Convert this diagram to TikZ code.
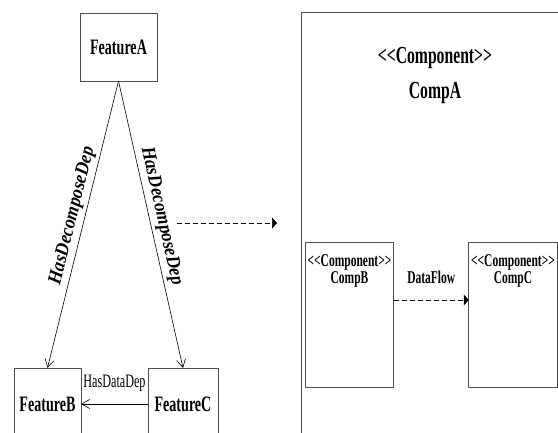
\documentclass[tikz,border=0pt]{standalone}
\usepackage{fontspec}
\setmainfont{Liberation Serif}[FakeStretch=0.64]
\newfontfamily\depfont{Liberation Serif}[FakeStretch=0.9]
\usepackage{tikz}
\usetikzlibrary{positioning,arrows.meta}
\definecolor{mBoxLine}{HTML}{505050}
\definecolor{mInk}{HTML}{000000}
\tikzset{
 featbox/.style={draw=mBoxLine, line width=0.8pt, inner sep=0pt, outer sep=0pt, font=\fontsize{22}{24}\selectfont\bfseries},
 compframe/.style={draw=mBoxLine, line width=0.8pt, inner sep=0pt, outer sep=0pt},
 deparrow/.style={-{Straight Barb[length=8pt,width=9pt]}, line width=0.6pt, mInk},
 flowarrow/.style={-{Triangle[length=5pt,width=11pt]}, line width=0.7pt, dash pattern=on 5pt off 3pt, mInk},
}
\newcommand{\stereo}{<\kern0pt<Component>\kern0pt>}
\newcommand{\compnode}[3]{%
 \node[compframe, minimum width=88.5pt, minimum height=145pt] (#2) at (#1,314.5) {};%
 \node[align=center, font=\fontsize{18}{17}\selectfont\bfseries] (#2title) at (#1,271) {\stereo\\#3};%
}

\begin{document}
\begin{tikzpicture}[x=1pt, y=-1pt]
\useasboundingbox (0,0) rectangle (558,433);
\clip (0,0) rectangle (558,433);
% feature side
\node[featbox, minimum width=77pt, minimum height=68pt] (fa) at (118.5,47) {FeatureA};
\node[featbox, minimum width=67pt, minimum height=72pt] (fb) at (47.5,404) {FeatureB};
\node[featbox, minimum width=70pt, minimum height=72pt] (fc) at (183,404) {FeatureC};
\draw[deparrow] (fa.south) -- node[sloped, above, pos=0.48, font=\depfont\fontsize{19.5}{20}\selectfont\bfseries\itshape] (hdl) {HasDecomposeDep} (fb.north);
\draw[deparrow] (fa.south) -- node[sloped, above, pos=0.48, font=\depfont\fontsize{19.5}{20}\selectfont\bfseries\itshape] (hdr) {HasDecomposeDep} (fc.north);
\draw[deparrow] (fc.west) -- node[above=8.5pt, font=\fontsize{19}{20}\selectfont] (hdd) {HasDataDep} (fb.east);
% mapping
\coordinate (mapfrom) at (177,223);
\coordinate (mapto) at (277,223);
\draw[flowarrow] (mapfrom) -- (mapto);
% component side
\node[compframe, minimum width=269pt, minimum height=438pt] (compa) at (435.5,231) {};
\node[align=center, font=\fontsize{24.5}{35}\selectfont\bfseries] (compatitle) at (435,75) {\stereo\\CompA};
\compnode{349.5}{compb}{CompB}
\compnode{513}{compc}{CompC}
\draw[flowarrow] ([yshift=14.5pt]compb.east) -- node[above=13pt, font=\fontsize{18}{20}\selectfont\bfseries] (dfl) {DataFlow} ([yshift=14.5pt]compc.west);
\end{tikzpicture}
\end{document}
